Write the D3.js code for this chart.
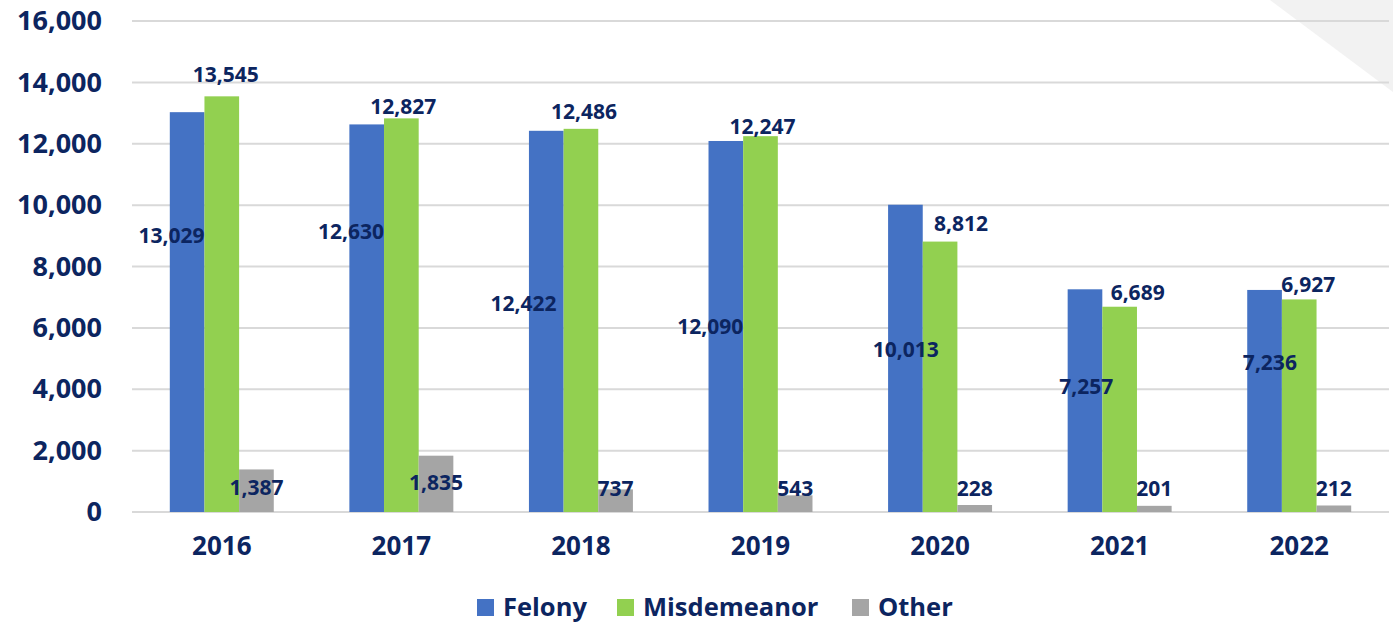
<!DOCTYPE html>
<html>
<head>
<meta charset="utf-8">
<script src="https://cdn.jsdelivr.net/npm/d3@7"></script>
<style>
  body { margin: 0; background: #fff; }
  text { font-family: "Open Sans", sans-serif; font-weight: 700; fill: #0c2560; }
</style>
</head>
<body>
<div id="chart"></div>
<script>
// data
var years = ["2016", "2017", "2018", "2019", "2020", "2021", "2022"];
var series = ["Felony", "Misdemeanor", "Other"];
var felony = [13029, 12630, 12422, 12090, 10013, 7257, 7236];
var misdemeanor = [13545, 12827, 12486, 12247, 8812, 6689, 6927];
var other = [1387, 1835, 737, 543, 228, 201, 212];
var yTicks = [0, 2000, 4000, 6000, 8000, 10000, 12000, 14000, 16000];

// label placement, roughly where the labels sit in the original
var felonyLabelAt = [9000, 9120, 6780, 6030, 5280, 4070, 4860]; // in data units
var felonyLabelDx = [0, 0, -7, 0, 16, 11, 15];
var misdLabelDx = [4, 2, 3, 2, 21, 18, 9];
var misdLabelDy = [-22, -12, -17, -10, -18, -14, -15];
var otherLabelAt = [780, 970, 750, 750, 750, 750, 750];

var colors = { Felony: "#4472c4", Misdemeanor: "#92d050", Other: "#a5a5a5" };

var width = 1393, height = 624;

var svg = d3.select("#chart")
    .append("svg")
    .attr("width", width)
    .attr("height", height);

// light corner triangle
svg.append("path")
    .attr("d", "M1270,0L1393,0L1393,92Z")
    .attr("fill", "#f2f2f2");

var x = d3.scaleBand()
    .domain(years)
    .range([132, 1389])
    .paddingInner(0.421)
    .paddingOuter(0.2105);

var xSub = d3.scaleBand()
    .domain(series)
    .range([0, x.bandwidth()]);

var y = d3.scaleLinear()
    .domain([0, 16000])
    .range([512, 21]);

var fmt = d3.format(",");

// gridlines
svg.append("g")
    .selectAll("line")
    .data(yTicks)
    .enter()
    .append("line")
    .attr("x1", 132)
    .attr("x2", 1389)
    .attr("y1", function (d) { return y(d); })
    .attr("y2", function (d) { return y(d); })
    .attr("stroke", "#d9d9d9")
    .attr("stroke-width", 2);

// y axis labels
var yAxis = svg.append("g")
    .attr("transform", "translate(102,0)")
    .call(d3.axisLeft(y).tickValues(yTicks).tickFormat(fmt).tickSize(0).tickPadding(0));
yAxis.select(".domain").remove();
yAxis.selectAll("text")
    .style("font-size", "27px")
    .attr("fill", "#0c2560");

// x axis labels
var xAxis = svg.append("g")
    .attr("transform", "translate(0,512)")
    .call(d3.axisBottom(x).tickSize(0).tickPadding(25));
xAxis.select(".domain").remove();
xAxis.selectAll("text")
    .style("font-size", "26px")
    .attr("fill", "#0c2560");

var table = years.map(function (yr, i) {
    return { year: yr, Felony: felony[i], Misdemeanor: misdemeanor[i], Other: other[i], i: i };
});

var groups = svg.append("g")
    .selectAll("g")
    .data(table)
    .enter()
    .append("g")
    .attr("transform", function (d) { return "translate(" + x(d.year) + ",0)"; });

groups.selectAll("rect")
    .data(function (d) { return series.map(function (s) { return { key: s, value: d[s] }; }); })
    .enter()
    .append("rect")
    .attr("x", function (d) { return xSub(d.key); })
    .attr("y", function (d) { return y(d.value); })
    .attr("width", xSub.bandwidth())
    .attr("height", function (d) { return y(0) - y(d.value); })
    .attr("fill", function (d) { return colors[d.key]; });

// Felony labels
groups.append("text")
    .attr("x", function (d) { return xSub("Felony") + xSub.bandwidth() + felonyLabelDx[d.i]; })
    .attr("y", function (d) { return y(felonyLabelAt[d.i]); })
    .attr("dy", "0.35em")
    .attr("text-anchor", "end")
    .style("font-size", "21px")
    .text(function (d) { return fmt(d.Felony); });

// Misdemeanor labels
groups.append("text")
    .attr("x", function (d) { return xSub("Misdemeanor") + xSub.bandwidth() / 2 + misdLabelDx[d.i]; })
    .attr("y", function (d) { return y(d.Misdemeanor) + misdLabelDy[d.i]; })
    .attr("dy", "0.35em")
    .attr("text-anchor", "middle")
    .style("font-size", "21px")
    .text(function (d) { return fmt(d.Misdemeanor); });

// Other labels
groups.append("text")
    .attr("x", function (d) { return xSub("Other") + xSub.bandwidth() / 2; })
    .attr("y", function (d) { return y(otherLabelAt[d.i]); })
    .attr("dy", "0.35em")
    .attr("text-anchor", "middle")
    .style("font-size", "21px")
    .text(function (d) { return fmt(d.Other); });

// legend
var legendX = [477, 617, 852];
var legend = svg.append("g")
    .selectAll("g")
    .data(series)
    .enter()
    .append("g")
    .attr("transform", function (d, i) { return "translate(" + legendX[i] + ",599)"; });
legend.append("rect")
    .attr("width", 17)
    .attr("height", 17)
    .attr("fill", function (d) { return colors[d]; });
legend.append("text")
    .attr("x", 26)
    .attr("y", 8.5)
    .attr("dy", "0.35em")
    .style("font-size", "25.5px")
    .text(function (d) { return d; });
</script>
</body>
</html>
